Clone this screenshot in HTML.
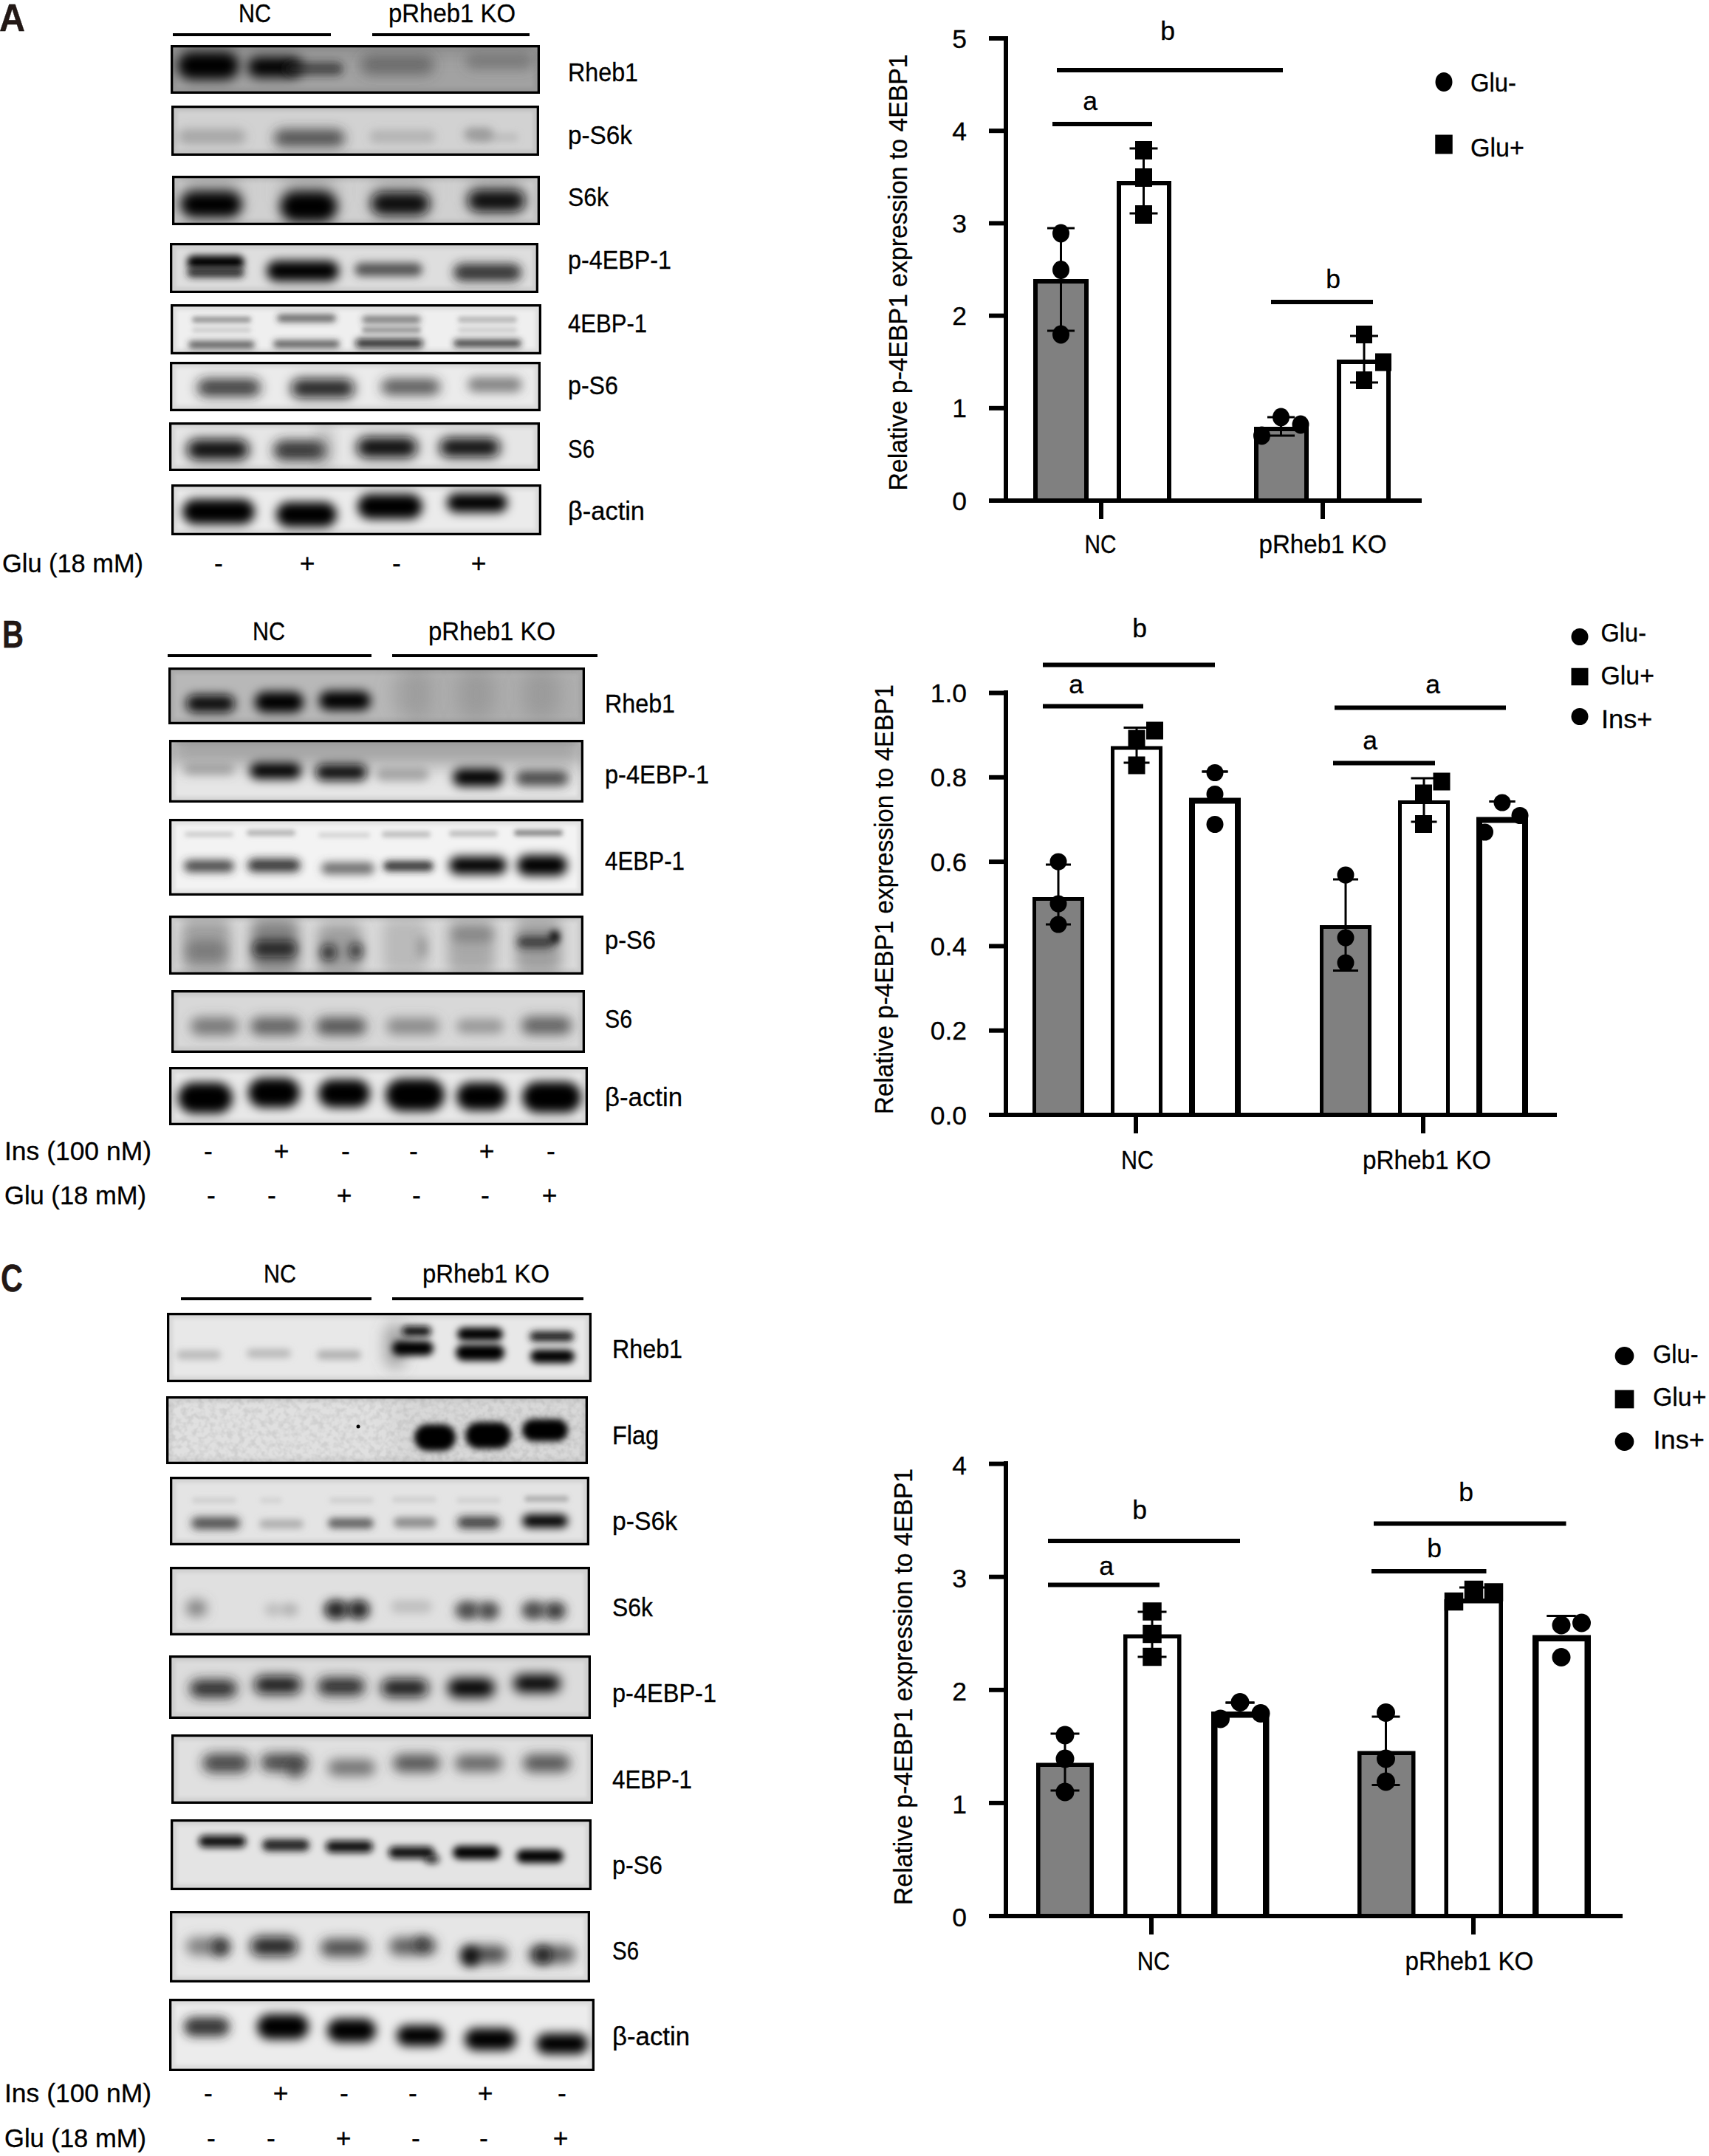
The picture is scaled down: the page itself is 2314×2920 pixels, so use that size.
<!DOCTYPE html>
<html><head><meta charset="utf-8"><style>
html,body{margin:0;padding:0;background:#fff;}
svg{display:block;font-family:"Liberation Sans", sans-serif;}
text{stroke:#000;stroke-width:0.3px;}
</style></head><body>
<svg width="2314" height="2920" viewBox="0 0 2314 2920">
<defs><filter id="noise" x="0" y="0" width="100%" height="100%"><feTurbulence type="fractalNoise" baseFrequency="0.13" numOctaves="2" seed="7"/><feColorMatrix type="matrix" values="0 0 0 0 0.55  0 0 0 0 0.55  0 0 0 0 0.55  3 0 0 0 -1.2"/></filter><filter id="b2" x="-100%" y="-500%" width="300%" height="1100%"><feGaussianBlur stdDeviation="2"/></filter><filter id="b3" x="-100%" y="-500%" width="300%" height="1100%"><feGaussianBlur stdDeviation="3"/></filter><filter id="b4" x="-100%" y="-500%" width="300%" height="1100%"><feGaussianBlur stdDeviation="4"/></filter><filter id="b5" x="-100%" y="-500%" width="300%" height="1100%"><feGaussianBlur stdDeviation="5"/></filter><filter id="b6" x="-100%" y="-500%" width="300%" height="1100%"><feGaussianBlur stdDeviation="6"/></filter><filter id="b7" x="-100%" y="-500%" width="300%" height="1100%"><feGaussianBlur stdDeviation="7"/></filter><filter id="b8" x="-100%" y="-500%" width="300%" height="1100%"><feGaussianBlur stdDeviation="8"/></filter><filter id="b9" x="-100%" y="-500%" width="300%" height="1100%"><feGaussianBlur stdDeviation="9"/></filter><filter id="b10" x="-100%" y="-500%" width="300%" height="1100%"><feGaussianBlur stdDeviation="10"/></filter><filter id="b11" x="-100%" y="-500%" width="300%" height="1100%"><feGaussianBlur stdDeviation="11"/></filter><filter id="b12" x="-100%" y="-500%" width="300%" height="1100%"><feGaussianBlur stdDeviation="12"/></filter><filter id="b13" x="-100%" y="-500%" width="300%" height="1100%"><feGaussianBlur stdDeviation="13"/></filter><filter id="b14" x="-100%" y="-500%" width="300%" height="1100%"><feGaussianBlur stdDeviation="14"/></filter></defs>
<rect width="2314" height="2920" fill="#fff"/>
<text x="-1" y="42" font-size="52" text-anchor="start" font-weight="bold" fill="#231815" textLength="35" lengthAdjust="spacingAndGlyphs">A</text>
<text x="3" y="877" font-size="52" text-anchor="start" font-weight="bold" fill="#231815" textLength="29" lengthAdjust="spacingAndGlyphs">B</text>
<text x="1" y="1749" font-size="52" text-anchor="start" font-weight="bold" fill="#231815" textLength="30" lengthAdjust="spacingAndGlyphs">C</text>
<text x="345" y="30" font-size="35.5" text-anchor="middle" font-weight="normal" fill="#000" textLength="44" lengthAdjust="spacingAndGlyphs">NC</text>
<text x="612" y="30" font-size="35.5" text-anchor="middle" font-weight="normal" fill="#000" textLength="172" lengthAdjust="spacingAndGlyphs">pRheb1 KO</text>
<line x1="234" y1="47" x2="448" y2="47" stroke="#000" stroke-width="4"/>
<line x1="504" y1="47" x2="717" y2="47" stroke="#000" stroke-width="4"/>
<clipPath id="k1"><rect x="231" y="61" width="500" height="66"/></clipPath>
<g clip-path="url(#k1)">
<rect x="231" y="61" width="500" height="66" fill="#a2a2a2"/>
<rect x="231" y="61" width="500" height="20" fill="#888" filter="url(#b8)" opacity="0.5"/>
<rect x="240" y="70" width="84" height="38" rx="19" ry="19" fill="#000" filter="url(#b8)"/>
<rect x="335" y="77" width="74" height="28" rx="14" ry="14" fill="#000" filter="url(#b8)"/>
<rect x="385" y="84" width="80" height="18" rx="9" ry="9" fill="#222" fill-opacity="0.7" filter="url(#b6)"/>
<rect x="488" y="75" width="100" height="26" rx="13" ry="13" fill="#444" fill-opacity="0.6" filter="url(#b9)"/>
<rect x="630" y="72" width="92" height="22" rx="11" ry="11" fill="#555" fill-opacity="0.5" filter="url(#b8)"/>
<rect x="236.3" y="66.3" width="489.4" height="55.4" fill="none" stroke="#000" stroke-opacity="0.07" stroke-width="6" filter="url(#b2)"/>
</g>
<rect x="232.65" y="62.65" width="496.7" height="62.7" fill="none" stroke="#000" stroke-width="3.3"/>
<text x="769" y="110" font-size="35.5" text-anchor="start" font-weight="normal" fill="#000" textLength="95" lengthAdjust="spacingAndGlyphs">Rheb1</text>
<clipPath id="k2"><rect x="232" y="143" width="498" height="68"/></clipPath>
<g clip-path="url(#k2)">
<rect x="232" y="143" width="498" height="68" fill="#d2d2d2"/>
<rect x="241" y="175" width="92" height="20" rx="10" ry="10" fill="#777" fill-opacity="0.5" filter="url(#b7)"/>
<rect x="371" y="175" width="96" height="24" rx="12" ry="12" fill="#333" fill-opacity="0.8" filter="url(#b8)"/>
<rect x="500" y="176" width="90" height="18" rx="9" ry="9" fill="#888" fill-opacity="0.4" filter="url(#b6)"/>
<rect x="628" y="173" width="40" height="18" rx="9" ry="9" fill="#666" fill-opacity="0.5" filter="url(#b6)"/>
<rect x="642" y="180" width="60" height="12" rx="6" ry="6" fill="#999" fill-opacity="0.35" filter="url(#b5)"/>
<rect x="237.3" y="148.3" width="487.4" height="57.4" fill="none" stroke="#000" stroke-opacity="0.07" stroke-width="6" filter="url(#b2)"/>
</g>
<rect x="233.65" y="144.65" width="494.7" height="64.7" fill="none" stroke="#000" stroke-width="3.3"/>
<text x="769" y="195" font-size="35.5" text-anchor="start" font-weight="normal" fill="#000" textLength="87" lengthAdjust="spacingAndGlyphs">p-S6k</text>
<clipPath id="k3"><rect x="233" y="238" width="498" height="67"/></clipPath>
<g clip-path="url(#k3)">
<rect x="233" y="238" width="498" height="67" fill="#d0d0d0"/>
<rect x="245" y="237" width="80" height="44" rx="15" ry="15" fill="#777" fill-opacity="0.35" filter="url(#b12)"/>
<rect x="381" y="237" width="74" height="44" rx="15" ry="15" fill="#777" fill-opacity="0.35" filter="url(#b12)"/>
<rect x="504" y="237" width="76" height="44" rx="15" ry="15" fill="#888" fill-opacity="0.3" filter="url(#b12)"/>
<rect x="635" y="237" width="74" height="44" rx="15" ry="15" fill="#888" fill-opacity="0.3" filter="url(#b12)"/>
<rect x="244" y="259" width="84" height="36" rx="18" ry="18" fill="#000" filter="url(#b8)"/>
<rect x="379" y="259" width="78" height="42" rx="21" ry="21" fill="#000" filter="url(#b8)"/>
<rect x="502" y="260" width="80" height="32" rx="16" ry="16" fill="#111" filter="url(#b8)"/>
<rect x="633" y="257" width="78" height="30" rx="15" ry="15" fill="#111" filter="url(#b8)"/>
<rect x="238.3" y="243.3" width="487.4" height="56.4" fill="none" stroke="#000" stroke-opacity="0.07" stroke-width="6" filter="url(#b2)"/>
</g>
<rect x="234.65" y="239.65" width="494.7" height="63.7" fill="none" stroke="#000" stroke-width="3.3"/>
<text x="769" y="279" font-size="35.5" text-anchor="start" font-weight="normal" fill="#000" textLength="55" lengthAdjust="spacingAndGlyphs">S6k</text>
<clipPath id="k4"><rect x="230" y="329" width="499" height="68"/></clipPath>
<g clip-path="url(#k4)">
<rect x="230" y="329" width="499" height="68" fill="#dedede"/>
<rect x="253" y="346" width="78" height="18" rx="9" ry="9" fill="#000" filter="url(#b5)"/>
<rect x="253" y="362" width="78" height="14" rx="7" ry="7" fill="#222" fill-opacity="0.9" filter="url(#b5)"/>
<rect x="361" y="353" width="98" height="28" rx="14" ry="14" fill="#000" filter="url(#b7)"/>
<rect x="480" y="356" width="92" height="18" rx="9" ry="9" fill="#444" fill-opacity="0.9" filter="url(#b6)"/>
<rect x="614" y="357" width="92" height="24" rx="12" ry="12" fill="#222" fill-opacity="0.9" filter="url(#b7)"/>
<rect x="235.3" y="334.3" width="488.4" height="57.4" fill="none" stroke="#000" stroke-opacity="0.07" stroke-width="6" filter="url(#b2)"/>
</g>
<rect x="231.65" y="330.65" width="495.7" height="64.7" fill="none" stroke="#000" stroke-width="3.3"/>
<text x="769" y="364" font-size="35.5" text-anchor="start" font-weight="normal" fill="#000" textLength="140" lengthAdjust="spacingAndGlyphs">p-4EBP-1</text>
<clipPath id="k5"><rect x="231" y="412" width="502" height="68"/></clipPath>
<g clip-path="url(#k5)">
<rect x="231" y="412" width="502" height="68" fill="#efefef"/>
<rect x="260" y="429" width="80" height="8" rx="4" ry="4" fill="#555" fill-opacity="0.6" filter="url(#b3)"/>
<rect x="375" y="426" width="80" height="10" rx="5" ry="5" fill="#333" fill-opacity="0.75" filter="url(#b4)"/>
<rect x="490" y="428" width="80" height="10" rx="5" ry="5" fill="#444" fill-opacity="0.7" filter="url(#b4)"/>
<rect x="620" y="429" width="80" height="8" rx="4" ry="4" fill="#777" fill-opacity="0.5" filter="url(#b3)"/>
<rect x="260" y="444" width="80" height="6" rx="3" ry="3" fill="#888" fill-opacity="0.4" filter="url(#b3)"/>
<rect x="490" y="443" width="80" height="8" rx="4" ry="4" fill="#555" fill-opacity="0.6" filter="url(#b3)"/>
<rect x="620" y="444" width="80" height="6" rx="3" ry="3" fill="#888" fill-opacity="0.4" filter="url(#b3)"/>
<rect x="255" y="462" width="90" height="10" rx="5" ry="5" fill="#333" fill-opacity="0.8" filter="url(#b4)"/>
<rect x="370" y="461" width="90" height="10" rx="5" ry="5" fill="#333" fill-opacity="0.8" filter="url(#b4)"/>
<rect x="481" y="459" width="92" height="12" rx="6" ry="6" fill="#111" fill-opacity="0.9" filter="url(#b5)"/>
<rect x="614" y="460" width="92" height="10" rx="5" ry="5" fill="#222" fill-opacity="0.85" filter="url(#b4)"/>
<rect x="236.3" y="417.3" width="491.4" height="57.4" fill="none" stroke="#000" stroke-opacity="0.07" stroke-width="6" filter="url(#b2)"/>
</g>
<rect x="232.65" y="413.65" width="498.7" height="64.7" fill="none" stroke="#000" stroke-width="3.3"/>
<text x="769" y="450" font-size="35.5" text-anchor="start" font-weight="normal" fill="#000" textLength="107" lengthAdjust="spacingAndGlyphs">4EBP-1</text>
<clipPath id="k6"><rect x="230" y="490" width="502" height="67"/></clipPath>
<g clip-path="url(#k6)">
<rect x="230" y="490" width="502" height="67" fill="#ebebeb"/>
<rect x="267" y="513" width="86" height="24" rx="12" ry="12" fill="#222" fill-opacity="0.85" filter="url(#b8)"/>
<rect x="394" y="513" width="86" height="26" rx="13" ry="13" fill="#111" fill-opacity="0.9" filter="url(#b8)"/>
<rect x="516" y="513" width="80" height="22" rx="11" ry="11" fill="#333" fill-opacity="0.8" filter="url(#b8)"/>
<rect x="633" y="511" width="74" height="20" rx="10" ry="10" fill="#555" fill-opacity="0.7" filter="url(#b7)"/>
<rect x="235.3" y="495.3" width="491.4" height="56.4" fill="none" stroke="#000" stroke-opacity="0.07" stroke-width="6" filter="url(#b2)"/>
</g>
<rect x="231.65" y="491.65" width="498.7" height="63.7" fill="none" stroke="#000" stroke-width="3.3"/>
<text x="769" y="534" font-size="35.5" text-anchor="start" font-weight="normal" fill="#000" textLength="68" lengthAdjust="spacingAndGlyphs">p-S6</text>
<clipPath id="k7"><rect x="229" y="572" width="502" height="66"/></clipPath>
<g clip-path="url(#k7)">
<rect x="229" y="572" width="502" height="66" fill="#e6e6e6"/>
<rect x="253" y="595" width="84" height="28" rx="14" ry="14" fill="#111" filter="url(#b8)"/>
<rect x="370" y="596" width="72" height="28" rx="14" ry="14" fill="#222" fill-opacity="0.9" filter="url(#b8)"/>
<rect x="432" y="577" width="16" height="56" rx="8" ry="8" fill="#666" fill-opacity="0.4" filter="url(#b10)"/>
<rect x="483" y="592" width="82" height="28" rx="14" ry="14" fill="#111" filter="url(#b8)"/>
<rect x="595" y="593" width="82" height="26" rx="13" ry="13" fill="#111" filter="url(#b8)"/>
<rect x="234.3" y="577.3" width="491.4" height="55.4" fill="none" stroke="#000" stroke-opacity="0.07" stroke-width="6" filter="url(#b2)"/>
</g>
<rect x="230.65" y="573.65" width="498.7" height="62.7" fill="none" stroke="#000" stroke-width="3.3"/>
<text x="769" y="620" font-size="35.5" text-anchor="start" font-weight="normal" fill="#000" textLength="36" lengthAdjust="spacingAndGlyphs">S6</text>
<clipPath id="k8"><rect x="232" y="656" width="501" height="69"/></clipPath>
<g clip-path="url(#k8)">
<rect x="232" y="656" width="501" height="69" fill="#ebebeb"/>
<rect x="247" y="676" width="98" height="34" rx="17" ry="17" fill="#000" filter="url(#b7)"/>
<rect x="374" y="680" width="82" height="34" rx="17" ry="17" fill="#000" filter="url(#b7)"/>
<rect x="484" y="669" width="88" height="34" rx="17" ry="17" fill="#000" filter="url(#b7)"/>
<rect x="605" y="668" width="82" height="26" rx="13" ry="13" fill="#000" filter="url(#b7)"/>
<rect x="237.3" y="661.3" width="490.4" height="58.4" fill="none" stroke="#000" stroke-opacity="0.07" stroke-width="6" filter="url(#b2)"/>
</g>
<rect x="233.65" y="657.65" width="497.7" height="65.7" fill="none" stroke="#000" stroke-width="3.3"/>
<text x="769" y="704" font-size="35.5" text-anchor="start" font-weight="normal" fill="#000" textLength="104" lengthAdjust="spacingAndGlyphs">β-actin</text>
<text x="3" y="775" font-size="35.5" text-anchor="start" font-weight="normal" fill="#000" textLength="191" lengthAdjust="spacingAndGlyphs">Glu (18 mM)</text>
<text x="296" y="775" font-size="35.5" text-anchor="middle" font-weight="normal" fill="#000">-</text>
<text x="416" y="775" font-size="35.5" text-anchor="middle" font-weight="normal" fill="#000">+</text>
<text x="537" y="775" font-size="35.5" text-anchor="middle" font-weight="normal" fill="#000">-</text>
<text x="648" y="775" font-size="35.5" text-anchor="middle" font-weight="normal" fill="#000">+</text>
<text x="364" y="867" font-size="35.5" text-anchor="middle" font-weight="normal" fill="#000" textLength="44" lengthAdjust="spacingAndGlyphs">NC</text>
<text x="666" y="867" font-size="35.5" text-anchor="middle" font-weight="normal" fill="#000" textLength="172" lengthAdjust="spacingAndGlyphs">pRheb1 KO</text>
<line x1="227" y1="888" x2="503" y2="888" stroke="#000" stroke-width="4"/>
<line x1="531" y1="888" x2="809" y2="888" stroke="#000" stroke-width="4"/>
<clipPath id="k9"><rect x="228" y="904" width="564" height="77"/></clipPath>
<g clip-path="url(#k9)">
<rect x="228" y="904" width="564" height="77" fill="#b8b8b8"/>
<rect x="558" y="904" width="234" height="77" fill="#999" filter="url(#b10)" opacity="0.35"/>
<rect x="252" y="941" width="66" height="24" rx="12" ry="12" fill="#111" filter="url(#b7)"/>
<rect x="345" y="937" width="66" height="28" rx="14" ry="14" fill="#000" filter="url(#b7)"/>
<rect x="432" y="936" width="70" height="26" rx="13" ry="13" fill="#000" filter="url(#b7)"/>
<rect x="532" y="905" width="50" height="70" rx="25" ry="25" fill="#777" fill-opacity="0.35" filter="url(#b12)"/>
<rect x="620" y="905" width="50" height="70" rx="25" ry="25" fill="#777" fill-opacity="0.35" filter="url(#b12)"/>
<rect x="708" y="905" width="50" height="70" rx="25" ry="25" fill="#777" fill-opacity="0.35" filter="url(#b12)"/>
<rect x="233.3" y="909.3" width="553.4" height="66.4" fill="none" stroke="#000" stroke-opacity="0.07" stroke-width="6" filter="url(#b2)"/>
</g>
<rect x="229.65" y="905.65" width="560.7" height="73.7" fill="none" stroke="#000" stroke-width="3.3"/>
<text x="819" y="965" font-size="35.5" text-anchor="start" font-weight="normal" fill="#000" textLength="95" lengthAdjust="spacingAndGlyphs">Rheb1</text>
<clipPath id="k10"><rect x="229" y="1002" width="561" height="85"/></clipPath>
<g clip-path="url(#k10)">
<rect x="229" y="1002" width="561" height="85" fill="#e6e6e6"/>
<rect x="229" y="992" width="561" height="45" fill="#888" filter="url(#b12)" opacity="0.7"/>
<rect x="249" y="1034" width="68" height="16" rx="8" ry="8" fill="#777" fill-opacity="0.5" filter="url(#b6)"/>
<rect x="338" y="1033" width="70" height="22" rx="11" ry="11" fill="#000" filter="url(#b7)"/>
<rect x="427" y="1035" width="70" height="22" rx="11" ry="11" fill="#111" filter="url(#b7)"/>
<rect x="509" y="1040" width="72" height="18" rx="9" ry="9" fill="#777" fill-opacity="0.55" filter="url(#b6)"/>
<rect x="613" y="1041" width="68" height="24" rx="12" ry="12" fill="#000" filter="url(#b7)"/>
<rect x="698" y="1044" width="72" height="20" rx="10" ry="10" fill="#333" fill-opacity="0.9" filter="url(#b7)"/>
<rect x="234.3" y="1007.3" width="550.4" height="74.4" fill="none" stroke="#000" stroke-opacity="0.07" stroke-width="6" filter="url(#b2)"/>
</g>
<rect x="230.65" y="1003.65" width="557.7" height="81.7" fill="none" stroke="#000" stroke-width="3.3"/>
<text x="819" y="1061" font-size="35.5" text-anchor="start" font-weight="normal" fill="#000" textLength="141" lengthAdjust="spacingAndGlyphs">p-4EBP-1</text>
<clipPath id="k11"><rect x="229" y="1109" width="561" height="104"/></clipPath>
<g clip-path="url(#k11)">
<rect x="229" y="1109" width="561" height="104" fill="#f3f3f3"/>
<rect x="250" y="1127" width="66" height="6" rx="3" ry="3" fill="#999" fill-opacity="0.5" filter="url(#b3)"/>
<rect x="334" y="1124" width="66" height="8" rx="4" ry="4" fill="#888" fill-opacity="0.6" filter="url(#b3)"/>
<rect x="431" y="1128" width="70" height="6" rx="3" ry="3" fill="#aaa" fill-opacity="0.5" filter="url(#b3)"/>
<rect x="517" y="1126" width="66" height="8" rx="4" ry="4" fill="#999" fill-opacity="0.6" filter="url(#b3)"/>
<rect x="608" y="1125" width="66" height="8" rx="4" ry="4" fill="#999" fill-opacity="0.6" filter="url(#b3)"/>
<rect x="696" y="1124" width="66" height="8" rx="4" ry="4" fill="#555" fill-opacity="0.7" filter="url(#b3)"/>
<rect x="249" y="1165" width="68" height="16" rx="8" ry="8" fill="#333" fill-opacity="0.9" filter="url(#b6)"/>
<rect x="335" y="1163" width="72" height="18" rx="9" ry="9" fill="#222" fill-opacity="0.9" filter="url(#b6)"/>
<rect x="435" y="1168" width="72" height="16" rx="8" ry="8" fill="#555" fill-opacity="0.85" filter="url(#b6)"/>
<rect x="519" y="1166" width="68" height="14" rx="7" ry="7" fill="#222" fill-opacity="0.9" filter="url(#b5)"/>
<rect x="608" y="1160" width="78" height="24" rx="12" ry="12" fill="#000" filter="url(#b7)"/>
<rect x="700" y="1158" width="68" height="28" rx="14" ry="14" fill="#000" filter="url(#b7)"/>
<rect x="234.3" y="1114.3" width="550.4" height="93.4" fill="none" stroke="#000" stroke-opacity="0.07" stroke-width="6" filter="url(#b2)"/>
</g>
<rect x="230.65" y="1110.65" width="557.7" height="100.7" fill="none" stroke="#000" stroke-width="3.3"/>
<text x="819" y="1178" font-size="35.5" text-anchor="start" font-weight="normal" fill="#000" textLength="108" lengthAdjust="spacingAndGlyphs">4EBP-1</text>
<clipPath id="k12"><rect x="229" y="1240" width="561" height="80"/></clipPath>
<g clip-path="url(#k12)">
<rect x="229" y="1240" width="561" height="80" fill="#dadada"/>
<rect x="246" y="1245" width="66" height="72" rx="12" ry="12" fill="#888" fill-opacity="0.7" filter="url(#b9)"/>
<rect x="251" y="1274" width="56" height="28" rx="14" ry="14" fill="#555" fill-opacity="0.5" filter="url(#b8)"/>
<rect x="340" y="1245" width="64" height="72" rx="12" ry="12" fill="#666" fill-opacity="0.75" filter="url(#b9)"/>
<rect x="342" y="1274" width="60" height="22" rx="11" ry="11" fill="#111" fill-opacity="0.8" filter="url(#b7)"/>
<rect x="430" y="1251" width="60" height="68" rx="12" ry="12" fill="#777" fill-opacity="0.6" filter="url(#b9)"/>
<rect x="434" y="1279" width="22" height="22" rx="11" ry="11" fill="#111" fill-opacity="0.8" filter="url(#b7)"/>
<rect x="473" y="1277" width="18" height="22" rx="9" ry="9" fill="#111" fill-opacity="0.8" filter="url(#b7)"/>
<rect x="518" y="1245" width="60" height="72" rx="12" ry="12" fill="#999" fill-opacity="0.5" filter="url(#b9)"/>
<rect x="566" y="1269" width="12" height="28" rx="6" ry="6" fill="#666" fill-opacity="0.5" filter="url(#b7)"/>
<rect x="606" y="1245" width="64" height="72" rx="12" ry="12" fill="#888" fill-opacity="0.6" filter="url(#b9)"/>
<rect x="612" y="1256" width="56" height="20" rx="10" ry="10" fill="#666" fill-opacity="0.5" filter="url(#b7)"/>
<rect x="698" y="1245" width="62" height="72" rx="12" ry="12" fill="#777" fill-opacity="0.6" filter="url(#b9)"/>
<rect x="700" y="1268" width="50" height="16" rx="8" ry="8" fill="#222" fill-opacity="0.8" filter="url(#b6)"/>
<rect x="744" y="1260" width="14" height="18" rx="7" ry="7" fill="#000" fill-opacity="0.9" filter="url(#b5)"/>
<rect x="234.3" y="1245.3" width="550.4" height="69.4" fill="none" stroke="#000" stroke-opacity="0.07" stroke-width="6" filter="url(#b2)"/>
</g>
<rect x="230.65" y="1241.65" width="557.7" height="76.7" fill="none" stroke="#000" stroke-width="3.3"/>
<text x="819" y="1285" font-size="35.5" text-anchor="start" font-weight="normal" fill="#000" textLength="69" lengthAdjust="spacingAndGlyphs">p-S6</text>
<clipPath id="k13"><rect x="232" y="1341" width="560" height="85"/></clipPath>
<g clip-path="url(#k13)">
<rect x="232" y="1341" width="560" height="85" fill="#d8d8d8"/>
<rect x="258" y="1378" width="64" height="24" rx="12" ry="12" fill="#555" fill-opacity="0.75" filter="url(#b8)"/>
<rect x="339" y="1378" width="68" height="24" rx="12" ry="12" fill="#444" fill-opacity="0.8" filter="url(#b8)"/>
<rect x="428" y="1378" width="68" height="24" rx="12" ry="12" fill="#333" fill-opacity="0.8" filter="url(#b8)"/>
<rect x="523" y="1379" width="72" height="22" rx="11" ry="11" fill="#666" fill-opacity="0.7" filter="url(#b8)"/>
<rect x="618" y="1380" width="64" height="20" rx="10" ry="10" fill="#777" fill-opacity="0.65" filter="url(#b7)"/>
<rect x="706" y="1377" width="68" height="24" rx="12" ry="12" fill="#444" fill-opacity="0.8" filter="url(#b8)"/>
<rect x="237.3" y="1346.3" width="549.4" height="74.4" fill="none" stroke="#000" stroke-opacity="0.07" stroke-width="6" filter="url(#b2)"/>
</g>
<rect x="233.65" y="1342.65" width="556.7" height="81.7" fill="none" stroke="#000" stroke-width="3.3"/>
<text x="819" y="1392" font-size="35.5" text-anchor="start" font-weight="normal" fill="#000" textLength="37" lengthAdjust="spacingAndGlyphs">S6</text>
<clipPath id="k14"><rect x="229" y="1445" width="567" height="79"/></clipPath>
<g clip-path="url(#k14)">
<rect x="229" y="1445" width="567" height="79" fill="#e8e8e8"/>
<rect x="241" y="1466" width="74" height="42" rx="21" ry="21" fill="#000" filter="url(#b7)"/>
<rect x="336" y="1460" width="70" height="40" rx="20" ry="20" fill="#000" filter="url(#b7)"/>
<rect x="431" y="1462" width="70" height="38" rx="19" ry="19" fill="#000" filter="url(#b7)"/>
<rect x="522" y="1461" width="80" height="44" rx="22" ry="22" fill="#000" filter="url(#b7)"/>
<rect x="618" y="1466" width="68" height="38" rx="19" ry="19" fill="#000" filter="url(#b7)"/>
<rect x="707" y="1465" width="80" height="42" rx="21" ry="21" fill="#000" filter="url(#b7)"/>
<rect x="234.3" y="1450.3" width="556.4" height="68.4" fill="none" stroke="#000" stroke-opacity="0.07" stroke-width="6" filter="url(#b2)"/>
</g>
<rect x="230.65" y="1446.65" width="563.7" height="75.7" fill="none" stroke="#000" stroke-width="3.3"/>
<text x="819" y="1498" font-size="35.5" text-anchor="start" font-weight="normal" fill="#000" textLength="105" lengthAdjust="spacingAndGlyphs">β-actin</text>
<text x="6" y="1571" font-size="35.5" text-anchor="start" font-weight="normal" fill="#000" textLength="199" lengthAdjust="spacingAndGlyphs">Ins (100 nM)</text>
<text x="6" y="1631" font-size="35.5" text-anchor="start" font-weight="normal" fill="#000" textLength="192" lengthAdjust="spacingAndGlyphs">Glu (18 mM)</text>
<text x="282" y="1571" font-size="35.5" text-anchor="middle" font-weight="normal" fill="#000">-</text>
<text x="381" y="1571" font-size="35.5" text-anchor="middle" font-weight="normal" fill="#000">+</text>
<text x="468" y="1571" font-size="35.5" text-anchor="middle" font-weight="normal" fill="#000">-</text>
<text x="560" y="1571" font-size="35.5" text-anchor="middle" font-weight="normal" fill="#000">-</text>
<text x="659" y="1571" font-size="35.5" text-anchor="middle" font-weight="normal" fill="#000">+</text>
<text x="746" y="1571" font-size="35.5" text-anchor="middle" font-weight="normal" fill="#000">-</text>
<text x="286" y="1631" font-size="35.5" text-anchor="middle" font-weight="normal" fill="#000">-</text>
<text x="368" y="1631" font-size="35.5" text-anchor="middle" font-weight="normal" fill="#000">-</text>
<text x="466" y="1631" font-size="35.5" text-anchor="middle" font-weight="normal" fill="#000">+</text>
<text x="564" y="1631" font-size="35.5" text-anchor="middle" font-weight="normal" fill="#000">-</text>
<text x="657" y="1631" font-size="35.5" text-anchor="middle" font-weight="normal" fill="#000">-</text>
<text x="744" y="1631" font-size="35.5" text-anchor="middle" font-weight="normal" fill="#000">+</text>
<text x="379" y="1737" font-size="35.5" text-anchor="middle" font-weight="normal" fill="#000" textLength="44" lengthAdjust="spacingAndGlyphs">NC</text>
<text x="658" y="1737" font-size="35.5" text-anchor="middle" font-weight="normal" fill="#000" textLength="172" lengthAdjust="spacingAndGlyphs">pRheb1 KO</text>
<line x1="245" y1="1759" x2="503" y2="1759" stroke="#000" stroke-width="4"/>
<line x1="531" y1="1759" x2="790" y2="1759" stroke="#000" stroke-width="4"/>
<clipPath id="k15"><rect x="226" y="1778" width="575" height="94"/></clipPath>
<g clip-path="url(#k15)">
<rect x="226" y="1778" width="575" height="94" fill="#e8e8e8"/>
<rect x="239" y="1829" width="60" height="12" rx="6" ry="6" fill="#999" fill-opacity="0.6" filter="url(#b5)"/>
<rect x="334" y="1827" width="60" height="12" rx="6" ry="6" fill="#999" fill-opacity="0.6" filter="url(#b5)"/>
<rect x="429" y="1829" width="60" height="12" rx="6" ry="6" fill="#888" fill-opacity="0.6" filter="url(#b5)"/>
<rect x="521" y="1793" width="28" height="60" rx="14" ry="14" fill="#666" fill-opacity="0.55" filter="url(#b10)"/>
<rect x="544" y="1796" width="40" height="14" rx="7" ry="7" fill="#111" filter="url(#b5)"/>
<rect x="531" y="1816" width="56" height="20" rx="10" ry="10" fill="#000" filter="url(#b5)"/>
<rect x="619" y="1798" width="62" height="18" rx="9" ry="9" fill="#000" filter="url(#b5)"/>
<rect x="617" y="1821" width="66" height="22" rx="11" ry="11" fill="#000" filter="url(#b5)"/>
<rect x="717" y="1803" width="60" height="14" rx="7" ry="7" fill="#222" filter="url(#b5)"/>
<rect x="718" y="1828" width="60" height="18" rx="9" ry="9" fill="#000" filter="url(#b5)"/>
<rect x="231.3" y="1783.3" width="564.4" height="83.4" fill="none" stroke="#000" stroke-opacity="0.07" stroke-width="6" filter="url(#b2)"/>
</g>
<rect x="227.65" y="1779.65" width="571.7" height="90.7" fill="none" stroke="#000" stroke-width="3.3"/>
<text x="829" y="1839" font-size="35.5" text-anchor="start" font-weight="normal" fill="#000" textLength="95" lengthAdjust="spacingAndGlyphs">Rheb1</text>
<clipPath id="k16"><rect x="225" y="1891" width="571" height="92"/></clipPath>
<g clip-path="url(#k16)">
<rect x="225" y="1891" width="571" height="92" fill="#e0e0e0"/>
<rect x="225" y="1891" width="571" height="92" fill="#fff" filter="url(#noise)" opacity="0.55"/><rect x="530" y="1891" width="290" height="92" fill="#999" opacity="0.12" filter="url(#b14)"/><circle cx="485" cy="1932" r="2.5" fill="#000"/>
<rect x="561" y="1929" width="56" height="36" rx="18" ry="18" fill="#000" filter="url(#b4)"/>
<rect x="630" y="1926" width="62" height="36" rx="18" ry="18" fill="#000" filter="url(#b4)"/>
<rect x="707" y="1922" width="62" height="30" rx="15" ry="15" fill="#000" filter="url(#b4)"/>
<rect x="230.3" y="1896.3" width="560.4" height="81.4" fill="none" stroke="#000" stroke-opacity="0.07" stroke-width="6" filter="url(#b2)"/>
</g>
<rect x="226.65" y="1892.65" width="567.7" height="88.7" fill="none" stroke="#000" stroke-width="3.3"/>
<text x="829" y="1956" font-size="35.5" text-anchor="start" font-weight="normal" fill="#000" textLength="63" lengthAdjust="spacingAndGlyphs">Flag</text>
<clipPath id="k17"><rect x="230" y="2000" width="568" height="93"/></clipPath>
<g clip-path="url(#k17)">
<rect x="230" y="2000" width="568" height="93" fill="#e4e4e4"/>
<rect x="260" y="2028" width="60" height="8" rx="4" ry="4" fill="#bbb" fill-opacity="0.5" filter="url(#b3)"/>
<rect x="352" y="2028" width="30" height="8" rx="4" ry="4" fill="#bbb" fill-opacity="0.4" filter="url(#b3)"/>
<rect x="446" y="2028" width="60" height="8" rx="4" ry="4" fill="#bbb" fill-opacity="0.5" filter="url(#b3)"/>
<rect x="531" y="2027" width="60" height="8" rx="4" ry="4" fill="#bbb" fill-opacity="0.5" filter="url(#b3)"/>
<rect x="618" y="2028" width="60" height="8" rx="4" ry="4" fill="#bbb" fill-opacity="0.45" filter="url(#b3)"/>
<rect x="710" y="2026" width="60" height="8" rx="4" ry="4" fill="#888" fill-opacity="0.6" filter="url(#b3)"/>
<rect x="259" y="2055" width="66" height="16" rx="8" ry="8" fill="#333" fill-opacity="0.85" filter="url(#b6)"/>
<rect x="351" y="2058" width="60" height="12" rx="6" ry="6" fill="#888" fill-opacity="0.6" filter="url(#b5)"/>
<rect x="444" y="2056" width="62" height="14" rx="7" ry="7" fill="#444" fill-opacity="0.8" filter="url(#b5)"/>
<rect x="533" y="2055" width="58" height="14" rx="7" ry="7" fill="#666" fill-opacity="0.7" filter="url(#b5)"/>
<rect x="619" y="2054" width="58" height="16" rx="8" ry="8" fill="#222" fill-opacity="0.85" filter="url(#b6)"/>
<rect x="707" y="2051" width="62" height="18" rx="9" ry="9" fill="#000" filter="url(#b6)"/>
<rect x="235.3" y="2005.3" width="557.4" height="82.4" fill="none" stroke="#000" stroke-opacity="0.07" stroke-width="6" filter="url(#b2)"/>
</g>
<rect x="231.65" y="2001.65" width="564.7" height="89.7" fill="none" stroke="#000" stroke-width="3.3"/>
<text x="829" y="2072" font-size="35.5" text-anchor="start" font-weight="normal" fill="#000" textLength="88" lengthAdjust="spacingAndGlyphs">p-S6k</text>
<clipPath id="k18"><rect x="230" y="2122" width="569" height="93"/></clipPath>
<g clip-path="url(#k18)">
<rect x="230" y="2122" width="569" height="93" fill="#e0e0e0"/>
<rect x="252" y="2167" width="28" height="22" rx="11" ry="11" fill="#666" fill-opacity="0.8" filter="url(#b8)"/>
<rect x="358" y="2171" width="24" height="18" rx="9" ry="9" fill="#aaa" fill-opacity="0.6" filter="url(#b6)"/>
<rect x="380" y="2171" width="24" height="18" rx="9" ry="9" fill="#999" fill-opacity="0.6" filter="url(#b6)"/>
<rect x="439" y="2170" width="60" height="20" rx="10" ry="10" fill="#555" fill-opacity="0.7" filter="url(#b7)"/>
<rect x="441" y="2168" width="28" height="24" rx="12" ry="12" fill="#111" fill-opacity="0.85" filter="url(#b7)"/>
<rect x="473" y="2168" width="26" height="24" rx="12" ry="12" fill="#111" fill-opacity="0.85" filter="url(#b7)"/>
<rect x="529" y="2167" width="56" height="18" rx="9" ry="9" fill="#aaa" fill-opacity="0.6" filter="url(#b6)"/>
<rect x="615" y="2171" width="60" height="20" rx="10" ry="10" fill="#666" fill-opacity="0.7" filter="url(#b7)"/>
<rect x="620" y="2170" width="26" height="22" rx="11" ry="11" fill="#333" fill-opacity="0.8" filter="url(#b7)"/>
<rect x="650" y="2171" width="24" height="22" rx="11" ry="11" fill="#333" fill-opacity="0.8" filter="url(#b7)"/>
<rect x="706" y="2171" width="60" height="20" rx="10" ry="10" fill="#666" fill-opacity="0.7" filter="url(#b7)"/>
<rect x="709" y="2170" width="26" height="22" rx="11" ry="11" fill="#333" fill-opacity="0.8" filter="url(#b7)"/>
<rect x="740" y="2171" width="24" height="22" rx="11" ry="11" fill="#222" fill-opacity="0.8" filter="url(#b7)"/>
<rect x="235.3" y="2127.3" width="558.4" height="82.4" fill="none" stroke="#000" stroke-opacity="0.07" stroke-width="6" filter="url(#b2)"/>
</g>
<rect x="231.65" y="2123.65" width="565.7" height="89.7" fill="none" stroke="#000" stroke-width="3.3"/>
<text x="829" y="2189" font-size="35.5" text-anchor="start" font-weight="normal" fill="#000" textLength="55" lengthAdjust="spacingAndGlyphs">S6k</text>
<clipPath id="k19"><rect x="229" y="2242" width="571" height="86"/></clipPath>
<g clip-path="url(#k19)">
<rect x="229" y="2242" width="571" height="86" fill="#dcdcdc"/>
<rect x="257" y="2275" width="64" height="24" rx="12" ry="12" fill="#222" fill-opacity="0.95" filter="url(#b8)"/>
<rect x="344" y="2270" width="64" height="24" rx="12" ry="12" fill="#111" fill-opacity="0.95" filter="url(#b8)"/>
<rect x="430" y="2272" width="64" height="24" rx="12" ry="12" fill="#222" fill-opacity="0.95" filter="url(#b8)"/>
<rect x="516" y="2274" width="64" height="24" rx="12" ry="12" fill="#111" fill-opacity="0.95" filter="url(#b8)"/>
<rect x="606" y="2273" width="64" height="26" rx="13" ry="13" fill="#000" filter="url(#b8)"/>
<rect x="695" y="2268" width="64" height="24" rx="12" ry="12" fill="#000" filter="url(#b8)"/>
<rect x="234.3" y="2247.3" width="560.4" height="75.4" fill="none" stroke="#000" stroke-opacity="0.07" stroke-width="6" filter="url(#b2)"/>
</g>
<rect x="230.65" y="2243.65" width="567.7" height="82.7" fill="none" stroke="#000" stroke-width="3.3"/>
<text x="829" y="2305" font-size="35.5" text-anchor="start" font-weight="normal" fill="#000" textLength="141" lengthAdjust="spacingAndGlyphs">p-4EBP-1</text>
<clipPath id="k20"><rect x="232" y="2349" width="571" height="94"/></clipPath>
<g clip-path="url(#k20)">
<rect x="232" y="2349" width="571" height="94" fill="#e0e0e0"/>
<rect x="274" y="2375" width="64" height="26" rx="13" ry="13" fill="#222" fill-opacity="0.8" filter="url(#b8)"/>
<rect x="353" y="2375" width="64" height="24" rx="12" ry="12" fill="#222" fill-opacity="0.8" filter="url(#b8)"/>
<rect x="388" y="2386" width="24" height="22" rx="11" ry="11" fill="#333" fill-opacity="0.65" filter="url(#b8)"/>
<rect x="444" y="2383" width="64" height="22" rx="11" ry="11" fill="#555" fill-opacity="0.8" filter="url(#b8)"/>
<rect x="532" y="2376" width="64" height="24" rx="12" ry="12" fill="#333" fill-opacity="0.8" filter="url(#b8)"/>
<rect x="616" y="2377" width="64" height="22" rx="11" ry="11" fill="#444" fill-opacity="0.8" filter="url(#b8)"/>
<rect x="708" y="2376" width="64" height="24" rx="12" ry="12" fill="#333" fill-opacity="0.8" filter="url(#b8)"/>
<rect x="237.3" y="2354.3" width="560.4" height="83.4" fill="none" stroke="#000" stroke-opacity="0.07" stroke-width="6" filter="url(#b2)"/>
</g>
<rect x="233.65" y="2350.65" width="567.7" height="90.7" fill="none" stroke="#000" stroke-width="3.3"/>
<text x="829" y="2422" font-size="35.5" text-anchor="start" font-weight="normal" fill="#000" textLength="108" lengthAdjust="spacingAndGlyphs">4EBP-1</text>
<clipPath id="k21"><rect x="231" y="2464" width="570" height="96"/></clipPath>
<g clip-path="url(#k21)">
<rect x="231" y="2464" width="570" height="96" fill="#e4e4e4"/>
<rect x="269" y="2486" width="64" height="16" rx="8" ry="8" fill="#111" filter="url(#b5)"/>
<rect x="355" y="2491" width="64" height="16" rx="8" ry="8" fill="#222" filter="url(#b5)"/>
<rect x="441" y="2493" width="64" height="16" rx="8" ry="8" fill="#111" filter="url(#b5)"/>
<rect x="526" y="2501" width="62" height="16" rx="8" ry="8" fill="#111" filter="url(#b5)"/>
<rect x="575" y="2512" width="20" height="12" rx="6" ry="6" fill="#111" fill-opacity="0.8" filter="url(#b5)"/>
<rect x="613" y="2500" width="64" height="18" rx="9" ry="9" fill="#000" filter="url(#b5)"/>
<rect x="699" y="2505" width="64" height="18" rx="9" ry="9" fill="#000" filter="url(#b5)"/>
<rect x="236.3" y="2469.3" width="559.4" height="85.4" fill="none" stroke="#000" stroke-opacity="0.07" stroke-width="6" filter="url(#b2)"/>
</g>
<rect x="232.65" y="2465.65" width="566.7" height="92.7" fill="none" stroke="#000" stroke-width="3.3"/>
<text x="829" y="2538" font-size="35.5" text-anchor="start" font-weight="normal" fill="#000" textLength="68" lengthAdjust="spacingAndGlyphs">p-S6</text>
<clipPath id="k22"><rect x="230" y="2588" width="569" height="97"/></clipPath>
<g clip-path="url(#k22)">
<rect x="230" y="2588" width="569" height="97" fill="#e6e6e6"/>
<rect x="252" y="2624" width="58" height="24" rx="12" ry="12" fill="#666" fill-opacity="0.8" filter="url(#b8)"/>
<rect x="287" y="2625" width="24" height="24" rx="12" ry="12" fill="#222" fill-opacity="0.8" filter="url(#b7)"/>
<rect x="339" y="2623" width="64" height="26" rx="13" ry="13" fill="#111" fill-opacity="0.9" filter="url(#b8)"/>
<rect x="434" y="2626" width="64" height="24" rx="12" ry="12" fill="#333" fill-opacity="0.85" filter="url(#b8)"/>
<rect x="527" y="2624" width="64" height="24" rx="12" ry="12" fill="#444" fill-opacity="0.85" filter="url(#b8)"/>
<rect x="562" y="2623" width="20" height="20" rx="10" ry="10" fill="#222" fill-opacity="0.7" filter="url(#b7)"/>
<rect x="623" y="2635" width="64" height="24" rx="12" ry="12" fill="#333" fill-opacity="0.85" filter="url(#b8)"/>
<rect x="626" y="2637" width="22" height="26" rx="11" ry="11" fill="#000" fill-opacity="0.9" filter="url(#b7)"/>
<rect x="715" y="2635" width="64" height="24" rx="12" ry="12" fill="#444" fill-opacity="0.85" filter="url(#b8)"/>
<rect x="723" y="2636" width="24" height="24" rx="12" ry="12" fill="#111" fill-opacity="0.8" filter="url(#b7)"/>
<rect x="235.3" y="2593.3" width="558.4" height="86.4" fill="none" stroke="#000" stroke-opacity="0.07" stroke-width="6" filter="url(#b2)"/>
</g>
<rect x="231.65" y="2589.65" width="565.7" height="93.7" fill="none" stroke="#000" stroke-width="3.3"/>
<text x="829" y="2654" font-size="35.5" text-anchor="start" font-weight="normal" fill="#000" textLength="36" lengthAdjust="spacingAndGlyphs">S6</text>
<clipPath id="k23"><rect x="229" y="2707" width="576" height="98"/></clipPath>
<g clip-path="url(#k23)">
<rect x="229" y="2707" width="576" height="98" fill="#ececec"/>
<rect x="249" y="2732" width="62" height="26" rx="13" ry="13" fill="#222" fill-opacity="0.9" filter="url(#b7)"/>
<rect x="348" y="2728" width="70" height="34" rx="17" ry="17" fill="#000" filter="url(#b7)"/>
<rect x="443" y="2734" width="66" height="32" rx="16" ry="16" fill="#000" filter="url(#b7)"/>
<rect x="537" y="2743" width="64" height="28" rx="14" ry="14" fill="#000" filter="url(#b7)"/>
<rect x="629" y="2747" width="70" height="30" rx="15" ry="15" fill="#000" filter="url(#b7)"/>
<rect x="726" y="2754" width="70" height="28" rx="14" ry="14" fill="#000" filter="url(#b7)"/>
<rect x="234.3" y="2712.3" width="565.4" height="87.4" fill="none" stroke="#000" stroke-opacity="0.07" stroke-width="6" filter="url(#b2)"/>
</g>
<rect x="230.65" y="2708.65" width="572.7" height="94.7" fill="none" stroke="#000" stroke-width="3.3"/>
<text x="829" y="2770" font-size="35.5" text-anchor="start" font-weight="normal" fill="#000" textLength="105" lengthAdjust="spacingAndGlyphs">β-actin</text>
<text x="6" y="2847" font-size="35.5" text-anchor="start" font-weight="normal" fill="#000" textLength="199" lengthAdjust="spacingAndGlyphs">Ins (100 nM)</text>
<text x="6" y="2908" font-size="35.5" text-anchor="start" font-weight="normal" fill="#000" textLength="192" lengthAdjust="spacingAndGlyphs">Glu (18 mM)</text>
<text x="282" y="2847" font-size="35.5" text-anchor="middle" font-weight="normal" fill="#000">-</text>
<text x="380" y="2847" font-size="35.5" text-anchor="middle" font-weight="normal" fill="#000">+</text>
<text x="466" y="2847" font-size="35.5" text-anchor="middle" font-weight="normal" fill="#000">-</text>
<text x="559" y="2847" font-size="35.5" text-anchor="middle" font-weight="normal" fill="#000">-</text>
<text x="657" y="2847" font-size="35.5" text-anchor="middle" font-weight="normal" fill="#000">+</text>
<text x="761" y="2847" font-size="35.5" text-anchor="middle" font-weight="normal" fill="#000">-</text>
<text x="286" y="2908" font-size="35.5" text-anchor="middle" font-weight="normal" fill="#000">-</text>
<text x="367" y="2908" font-size="35.5" text-anchor="middle" font-weight="normal" fill="#000">-</text>
<text x="465" y="2908" font-size="35.5" text-anchor="middle" font-weight="normal" fill="#000">+</text>
<text x="563" y="2908" font-size="35.5" text-anchor="middle" font-weight="normal" fill="#000">-</text>
<text x="655" y="2908" font-size="35.5" text-anchor="middle" font-weight="normal" fill="#000">-</text>
<text x="759" y="2908" font-size="35.5" text-anchor="middle" font-weight="normal" fill="#000">+</text>
<line x1="1362" y1="49" x2="1362" y2="681" stroke="#000" stroke-width="6"/>
<line x1="1339" y1="678" x2="1925" y2="678" stroke="#000" stroke-width="6"/>
<line x1="1339" y1="678.0" x2="1362" y2="678.0" stroke="#000" stroke-width="6"/>
<text x="1309" y="690.5" font-size="35.5" text-anchor="end" font-weight="normal" fill="#000">0</text>
<line x1="1339" y1="552.8" x2="1362" y2="552.8" stroke="#000" stroke-width="6"/>
<text x="1309" y="565.3" font-size="35.5" text-anchor="end" font-weight="normal" fill="#000">1</text>
<line x1="1339" y1="427.6" x2="1362" y2="427.6" stroke="#000" stroke-width="6"/>
<text x="1309" y="440.1" font-size="35.5" text-anchor="end" font-weight="normal" fill="#000">2</text>
<line x1="1339" y1="302.4" x2="1362" y2="302.4" stroke="#000" stroke-width="6"/>
<text x="1309" y="314.9" font-size="35.5" text-anchor="end" font-weight="normal" fill="#000">3</text>
<line x1="1339" y1="177.2" x2="1362" y2="177.2" stroke="#000" stroke-width="6"/>
<text x="1309" y="189.7" font-size="35.5" text-anchor="end" font-weight="normal" fill="#000">4</text>
<line x1="1339" y1="52.0" x2="1362" y2="52.0" stroke="#000" stroke-width="6"/>
<text x="1309" y="64.5" font-size="35.5" text-anchor="end" font-weight="normal" fill="#000">5</text>
<line x1="1491" y1="678" x2="1491" y2="703" stroke="#000" stroke-width="6"/>
<line x1="1791" y1="678" x2="1791" y2="703" stroke="#000" stroke-width="6"/>
<text x="1490" y="749" font-size="35.5" text-anchor="middle" font-weight="normal" fill="#000" textLength="43" lengthAdjust="spacingAndGlyphs">NC</text>
<text x="1791" y="749" font-size="35.5" text-anchor="middle" font-weight="normal" fill="#000" textLength="173" lengthAdjust="spacingAndGlyphs">pRheb1 KO</text>
<text x="0" y="0" font-size="35.5" text-anchor="middle" textLength="591" lengthAdjust="spacingAndGlyphs" transform="translate(1228,369) rotate(-90)">Relative p-4EBP1 expression to 4EBP1</text>
<rect x="1402.0" y="381.0" width="69" height="297.0" fill="#808080"/>
<path d="M1402.0,678 V381.0 H1471.0 V678" fill="none" stroke="#000" stroke-width="6" stroke-linejoin="miter" stroke-linecap="butt"/>
<rect x="1515.0" y="248.0" width="68" height="430.0" fill="#fff"/>
<path d="M1515.0,678 V248.0 H1583.0 V678" fill="none" stroke="#000" stroke-width="6" stroke-linejoin="miter" stroke-linecap="butt"/>
<rect x="1701.0" y="581.0" width="68" height="97.0" fill="#808080"/>
<path d="M1701.0,678 V581.0 H1769.0 V678" fill="none" stroke="#000" stroke-width="6" stroke-linejoin="miter" stroke-linecap="butt"/>
<rect x="1813.0" y="490.0" width="67" height="188.0" fill="#fff"/>
<path d="M1813.0,678 V490.0 H1880.0 V678" fill="none" stroke="#000" stroke-width="6" stroke-linejoin="miter" stroke-linecap="butt"/>
<line x1="1339" y1="678" x2="1925" y2="678" stroke="#000" stroke-width="6"/>
<line x1="1436.5" y1="309" x2="1436.5" y2="448" stroke="#000" stroke-width="3"/>
<line x1="1418.0" y1="309" x2="1455.0" y2="309" stroke="#000" stroke-width="3"/>
<line x1="1418.0" y1="448" x2="1455.0" y2="448" stroke="#000" stroke-width="3"/>
<line x1="1548.5" y1="201" x2="1548.5" y2="289" stroke="#000" stroke-width="3"/>
<line x1="1529.5" y1="201" x2="1567.5" y2="201" stroke="#000" stroke-width="3"/>
<line x1="1529.5" y1="289" x2="1567.5" y2="289" stroke="#000" stroke-width="3"/>
<line x1="1734.5" y1="565" x2="1734.5" y2="590" stroke="#000" stroke-width="3"/>
<line x1="1716.0" y1="565" x2="1753.0" y2="565" stroke="#000" stroke-width="3"/>
<line x1="1716.0" y1="590" x2="1753.0" y2="590" stroke="#000" stroke-width="3"/>
<line x1="1847" y1="455" x2="1847" y2="518" stroke="#000" stroke-width="3"/>
<line x1="1828.0" y1="455" x2="1866.0" y2="455" stroke="#000" stroke-width="3"/>
<line x1="1828.0" y1="518" x2="1866.0" y2="518" stroke="#000" stroke-width="3"/>
<ellipse cx="1436.5" cy="316" rx="11.5" ry="12.5" fill="#000"/>
<ellipse cx="1436.5" cy="365.5" rx="11.5" ry="12.5" fill="#000"/>
<ellipse cx="1436.5" cy="453" rx="11.5" ry="12.5" fill="#000"/>
<rect x="1537.0" y="191.0" width="23" height="25" fill="#000"/>
<rect x="1537.0" y="228.0" width="23" height="25" fill="#000"/>
<rect x="1537.0" y="278.0" width="23" height="25" fill="#000"/>
<ellipse cx="1734.5" cy="565" rx="11.5" ry="12.5" fill="#000"/>
<ellipse cx="1708.5" cy="590" rx="11.5" ry="12.5" fill="#000"/>
<ellipse cx="1761" cy="575" rx="11.5" ry="12.5" fill="#000"/>
<rect x="1836.0" y="441.0" width="22" height="24" fill="#000"/>
<rect x="1862.0" y="478.5" width="22" height="24" fill="#000"/>
<rect x="1836.0" y="503.0" width="22" height="24" fill="#000"/>
<line x1="1431" y1="95" x2="1737" y2="95" stroke="#000" stroke-width="6"/>
<text x="1581" y="54" font-size="35.5" text-anchor="middle" font-weight="normal" fill="#000">b</text>
<line x1="1425" y1="168" x2="1560" y2="168" stroke="#000" stroke-width="6"/>
<text x="1476" y="149" font-size="35.5" text-anchor="middle" font-weight="normal" fill="#000">a</text>
<line x1="1721" y1="409" x2="1859" y2="409" stroke="#000" stroke-width="6"/>
<text x="1805" y="390" font-size="35.5" text-anchor="middle" font-weight="normal" fill="#000">b</text>
<ellipse cx="1955" cy="111" rx="11.5" ry="13.0" fill="#000"/>
<text x="1991" y="124" font-size="35.5" text-anchor="start" font-weight="normal" fill="#000" textLength="62" lengthAdjust="spacingAndGlyphs">Glu-</text>
<rect x="1943.25" y="182.5" width="23.5" height="26" fill="#000"/>
<text x="1991" y="211.5" font-size="35.5" text-anchor="start" font-weight="normal" fill="#000" textLength="73" lengthAdjust="spacingAndGlyphs">Glu+</text>
<line x1="1362" y1="935" x2="1362" y2="1513" stroke="#000" stroke-width="6"/>
<line x1="1339" y1="1510" x2="2108" y2="1510" stroke="#000" stroke-width="6"/>
<line x1="1339" y1="1510.0" x2="1362" y2="1510.0" stroke="#000" stroke-width="6"/>
<text x="1309" y="1522.5" font-size="35.5" text-anchor="end" font-weight="normal" fill="#000">0.0</text>
<line x1="1339" y1="1395.7" x2="1362" y2="1395.7" stroke="#000" stroke-width="6"/>
<text x="1309" y="1408.2" font-size="35.5" text-anchor="end" font-weight="normal" fill="#000">0.2</text>
<line x1="1339" y1="1281.4" x2="1362" y2="1281.4" stroke="#000" stroke-width="6"/>
<text x="1309" y="1293.9" font-size="35.5" text-anchor="end" font-weight="normal" fill="#000">0.4</text>
<line x1="1339" y1="1167.1" x2="1362" y2="1167.1" stroke="#000" stroke-width="6"/>
<text x="1309" y="1179.6" font-size="35.5" text-anchor="end" font-weight="normal" fill="#000">0.6</text>
<line x1="1339" y1="1052.8" x2="1362" y2="1052.8" stroke="#000" stroke-width="6"/>
<text x="1309" y="1065.3" font-size="35.5" text-anchor="end" font-weight="normal" fill="#000">0.8</text>
<line x1="1339" y1="938.5" x2="1362" y2="938.5" stroke="#000" stroke-width="6"/>
<text x="1309" y="951.0" font-size="35.5" text-anchor="end" font-weight="normal" fill="#000">1.0</text>
<line x1="1538" y1="1510" x2="1538" y2="1535" stroke="#000" stroke-width="6"/>
<line x1="1927" y1="1510" x2="1927" y2="1535" stroke="#000" stroke-width="6"/>
<text x="1540" y="1583" font-size="35.5" text-anchor="middle" font-weight="normal" fill="#000" textLength="44" lengthAdjust="spacingAndGlyphs">NC</text>
<text x="1932" y="1583" font-size="35.5" text-anchor="middle" font-weight="normal" fill="#000" textLength="174" lengthAdjust="spacingAndGlyphs">pRheb1 KO</text>
<text x="0" y="0" font-size="35.5" text-anchor="middle" textLength="582" lengthAdjust="spacingAndGlyphs" transform="translate(1209,1218) rotate(-90)">Relative p-4EBP1 expression to 4EBP1</text>
<rect x="1400.5" y="1217.5" width="65" height="292.5" fill="#808080"/>
<path d="M1400.5,1510 V1217.5 H1465.5 V1510" fill="none" stroke="#000" stroke-width="5" stroke-linejoin="miter" stroke-linecap="butt"/>
<rect x="1506.5" y="1013.0" width="65" height="497.0" fill="#fff"/>
<path d="M1506.5,1510 V1013.0 H1571.5 V1510" fill="none" stroke="#000" stroke-width="5" stroke-linejoin="miter" stroke-linecap="butt"/>
<rect x="1614.0" y="1084.5" width="62" height="425.5" fill="#fff"/>
<path d="M1614.0,1510 V1084.5 H1676.0 V1510" fill="none" stroke="#000" stroke-width="8" stroke-linejoin="miter" stroke-linecap="butt"/>
<rect x="1789.5" y="1255.5" width="65" height="254.5" fill="#808080"/>
<path d="M1789.5,1510 V1255.5 H1854.5 V1510" fill="none" stroke="#000" stroke-width="5" stroke-linejoin="miter" stroke-linecap="butt"/>
<rect x="1895.5" y="1086.5" width="65" height="423.5" fill="#fff"/>
<path d="M1895.5,1510 V1086.5 H1960.5 V1510" fill="none" stroke="#000" stroke-width="5" stroke-linejoin="miter" stroke-linecap="butt"/>
<rect x="2003.0" y="1110.5" width="62" height="399.5" fill="#fff"/>
<path d="M2003.0,1510 V1110.5 H2065.0 V1510" fill="none" stroke="#000" stroke-width="8" stroke-linejoin="miter" stroke-linecap="butt"/>
<line x1="1339" y1="1510" x2="2108" y2="1510" stroke="#000" stroke-width="6"/>
<line x1="1433" y1="1171" x2="1433" y2="1252" stroke="#000" stroke-width="3"/>
<line x1="1416.0" y1="1171" x2="1450.0" y2="1171" stroke="#000" stroke-width="3"/>
<line x1="1416.0" y1="1252" x2="1450.0" y2="1252" stroke="#000" stroke-width="3"/>
<line x1="1539" y1="985.5" x2="1539" y2="1033" stroke="#000" stroke-width="3"/>
<line x1="1521.5" y1="985.5" x2="1556.5" y2="985.5" stroke="#000" stroke-width="3"/>
<line x1="1521.5" y1="1033" x2="1556.5" y2="1033" stroke="#000" stroke-width="3"/>
<line x1="1645" y1="1045" x2="1645" y2="1045" stroke="#000" stroke-width="3"/>
<line x1="1627.5" y1="1045" x2="1662.5" y2="1045" stroke="#000" stroke-width="3"/>
<line x1="1627.5" y1="1045" x2="1662.5" y2="1045" stroke="#000" stroke-width="3"/>
<line x1="1822" y1="1191" x2="1822" y2="1314.5" stroke="#000" stroke-width="3"/>
<line x1="1805.0" y1="1191" x2="1839.0" y2="1191" stroke="#000" stroke-width="3"/>
<line x1="1805.0" y1="1314.5" x2="1839.0" y2="1314.5" stroke="#000" stroke-width="3"/>
<line x1="1928" y1="1054" x2="1928" y2="1113" stroke="#000" stroke-width="3"/>
<line x1="1910.5" y1="1054" x2="1945.5" y2="1054" stroke="#000" stroke-width="3"/>
<line x1="1910.5" y1="1113" x2="1945.5" y2="1113" stroke="#000" stroke-width="3"/>
<line x1="2034" y1="1085.5" x2="2034" y2="1085.5" stroke="#000" stroke-width="3"/>
<line x1="2016.5" y1="1085.5" x2="2051.5" y2="1085.5" stroke="#000" stroke-width="3"/>
<line x1="2016.5" y1="1085.5" x2="2051.5" y2="1085.5" stroke="#000" stroke-width="3"/>
<ellipse cx="1433" cy="1167" rx="11.5" ry="11.5" fill="#000"/>
<ellipse cx="1433" cy="1224" rx="11.5" ry="11.5" fill="#000"/>
<ellipse cx="1433" cy="1252" rx="11.5" ry="11.5" fill="#000"/>
<rect x="1527.5" y="988.5" width="23" height="24" fill="#000"/>
<rect x="1552.0" y="977.5" width="23" height="24" fill="#000"/>
<rect x="1527.5" y="1024.5" width="23" height="24" fill="#000"/>
<ellipse cx="1645" cy="1046.5" rx="11.5" ry="11.5" fill="#000"/>
<ellipse cx="1645" cy="1075.5" rx="11.5" ry="11.5" fill="#000"/>
<ellipse cx="1645" cy="1116.5" rx="11.5" ry="11.5" fill="#000"/>
<ellipse cx="1822" cy="1185" rx="11.5" ry="11.5" fill="#000"/>
<ellipse cx="1822" cy="1270" rx="11.5" ry="11.5" fill="#000"/>
<ellipse cx="1822" cy="1304" rx="11.5" ry="11.5" fill="#000"/>
<rect x="1916.0" y="1062.5" width="23" height="24" fill="#000"/>
<rect x="1940.5" y="1046.5" width="23" height="24" fill="#000"/>
<rect x="1916.0" y="1104.0" width="23" height="24" fill="#000"/>
<ellipse cx="2034" cy="1087" rx="11.5" ry="11.5" fill="#000"/>
<ellipse cx="2058" cy="1104.5" rx="11.5" ry="11.5" fill="#000"/>
<ellipse cx="2010.5" cy="1127" rx="11.5" ry="11.5" fill="#000"/>
<line x1="1412" y1="900.5" x2="1645" y2="900.5" stroke="#000" stroke-width="6"/>
<text x="1543" y="863" font-size="35.5" text-anchor="middle" font-weight="normal" fill="#000">b</text>
<line x1="1412" y1="956.5" x2="1548" y2="956.5" stroke="#000" stroke-width="6"/>
<text x="1457" y="939" font-size="35.5" text-anchor="middle" font-weight="normal" fill="#000">a</text>
<line x1="1807" y1="958.5" x2="2039" y2="958.5" stroke="#000" stroke-width="6"/>
<text x="1940" y="939" font-size="35.5" text-anchor="middle" font-weight="normal" fill="#000">a</text>
<line x1="1805" y1="1033.5" x2="1943" y2="1033.5" stroke="#000" stroke-width="6"/>
<text x="1855" y="1015" font-size="35.5" text-anchor="middle" font-weight="normal" fill="#000">a</text>
<ellipse cx="2139" cy="862.5" rx="11.5" ry="11.5" fill="#000"/>
<text x="2167.5" y="869" font-size="35.5" text-anchor="start" font-weight="normal" fill="#000" textLength="61.5" lengthAdjust="spacingAndGlyphs">Glu-</text>
<rect x="2127.5" y="904.75" width="23" height="23.5" fill="#000"/>
<text x="2167.5" y="927" font-size="35.5" text-anchor="start" font-weight="normal" fill="#000" textLength="72.5" lengthAdjust="spacingAndGlyphs">Glu+</text>
<ellipse cx="2139" cy="970.5" rx="11.5" ry="11.5" fill="#000"/>
<text x="2168" y="986" font-size="35.5" text-anchor="start" font-weight="normal" fill="#000" textLength="69.5" lengthAdjust="spacingAndGlyphs">Ins+</text>
<line x1="1362" y1="1979" x2="1362" y2="2598" stroke="#000" stroke-width="6"/>
<line x1="1339" y1="2595" x2="2197" y2="2595" stroke="#000" stroke-width="6"/>
<line x1="1339" y1="2595.0" x2="1362" y2="2595.0" stroke="#000" stroke-width="6"/>
<text x="1309" y="2609.0" font-size="35.5" text-anchor="end" font-weight="normal" fill="#000">0</text>
<line x1="1339" y1="2441.9" x2="1362" y2="2441.9" stroke="#000" stroke-width="6"/>
<text x="1309" y="2455.9" font-size="35.5" text-anchor="end" font-weight="normal" fill="#000">1</text>
<line x1="1339" y1="2288.8" x2="1362" y2="2288.8" stroke="#000" stroke-width="6"/>
<text x="1309" y="2302.8" font-size="35.5" text-anchor="end" font-weight="normal" fill="#000">2</text>
<line x1="1339" y1="2135.7" x2="1362" y2="2135.7" stroke="#000" stroke-width="6"/>
<text x="1309" y="2149.7" font-size="35.5" text-anchor="end" font-weight="normal" fill="#000">3</text>
<line x1="1339" y1="1982.6" x2="1362" y2="1982.6" stroke="#000" stroke-width="6"/>
<text x="1309" y="1996.6" font-size="35.5" text-anchor="end" font-weight="normal" fill="#000">4</text>
<line x1="1559" y1="2595" x2="1559" y2="2620" stroke="#000" stroke-width="6"/>
<line x1="1995" y1="2595" x2="1995" y2="2620" stroke="#000" stroke-width="6"/>
<text x="1562" y="2668" font-size="35.5" text-anchor="middle" font-weight="normal" fill="#000" textLength="44.5" lengthAdjust="spacingAndGlyphs">NC</text>
<text x="1989.5" y="2668" font-size="35.5" text-anchor="middle" font-weight="normal" fill="#000" textLength="174" lengthAdjust="spacingAndGlyphs">pRheb1 KO</text>
<text x="0" y="0" font-size="35.5" text-anchor="middle" textLength="591" lengthAdjust="spacingAndGlyphs" transform="translate(1235,2284.5) rotate(-90)">Relative p-4EBP1 expression to 4EBP1</text>
<rect x="1405.75" y="2390.25" width="72.5" height="204.75" fill="#808080"/>
<path d="M1405.75,2595 V2390.25 H1478.25 V2595" fill="none" stroke="#000" stroke-width="5.5" stroke-linejoin="miter" stroke-linecap="butt"/>
<rect x="1523.75" y="2216.25" width="73.0" height="378.75" fill="#fff"/>
<path d="M1523.75,2595 V2216.25 H1596.75 V2595" fill="none" stroke="#000" stroke-width="5.5" stroke-linejoin="miter" stroke-linecap="butt"/>
<rect x="1644.25" y="2322.25" width="70.0" height="272.75" fill="#fff"/>
<path d="M1644.25,2595 V2322.25 H1714.25 V2595" fill="none" stroke="#000" stroke-width="8.5" stroke-linejoin="miter" stroke-linecap="butt"/>
<rect x="1840.75" y="2374.25" width="73.0" height="220.75" fill="#808080"/>
<path d="M1840.75,2595 V2374.25 H1913.75 V2595" fill="none" stroke="#000" stroke-width="5.5" stroke-linejoin="miter" stroke-linecap="butt"/>
<rect x="1958.25" y="2168.75" width="74.0" height="426.25" fill="#fff"/>
<path d="M1958.25,2595 V2168.75 H2032.25 V2595" fill="none" stroke="#000" stroke-width="5.5" stroke-linejoin="miter" stroke-linecap="butt"/>
<rect x="2079.25" y="2218.75" width="70.5" height="376.25" fill="#fff"/>
<path d="M2079.25,2595 V2218.75 H2149.75 V2595" fill="none" stroke="#000" stroke-width="8.5" stroke-linejoin="miter" stroke-linecap="butt"/>
<line x1="1339" y1="2595" x2="2197" y2="2595" stroke="#000" stroke-width="6"/>
<line x1="1442" y1="2348" x2="1442" y2="2425" stroke="#000" stroke-width="3"/>
<line x1="1422.5" y1="2348" x2="1461.5" y2="2348" stroke="#000" stroke-width="3"/>
<line x1="1422.5" y1="2425" x2="1461.5" y2="2425" stroke="#000" stroke-width="3"/>
<line x1="1560" y1="2183" x2="1560" y2="2244" stroke="#000" stroke-width="3"/>
<line x1="1540.5" y1="2183" x2="1579.5" y2="2183" stroke="#000" stroke-width="3"/>
<line x1="1540.5" y1="2244" x2="1579.5" y2="2244" stroke="#000" stroke-width="3"/>
<line x1="1679" y1="2306" x2="1679" y2="2306" stroke="#000" stroke-width="3"/>
<line x1="1659.5" y1="2306" x2="1698.5" y2="2306" stroke="#000" stroke-width="3"/>
<line x1="1659.5" y1="2306" x2="1698.5" y2="2306" stroke="#000" stroke-width="3"/>
<line x1="1876.5" y1="2325" x2="1876.5" y2="2417.5" stroke="#000" stroke-width="3"/>
<line x1="1857.5" y1="2325" x2="1895.5" y2="2325" stroke="#000" stroke-width="3"/>
<line x1="1857.5" y1="2417.5" x2="1895.5" y2="2417.5" stroke="#000" stroke-width="3"/>
<line x1="1995.5" y1="2150" x2="1995.5" y2="2166.5" stroke="#000" stroke-width="3"/>
<line x1="1976.0" y1="2150" x2="2015.0" y2="2150" stroke="#000" stroke-width="3"/>
<line x1="1976.0" y1="2166.5" x2="2015.0" y2="2166.5" stroke="#000" stroke-width="3"/>
<line x1="2114" y1="2188.5" x2="2114" y2="2188.5" stroke="#000" stroke-width="3"/>
<line x1="2094.5" y1="2188.5" x2="2133.5" y2="2188.5" stroke="#000" stroke-width="3"/>
<line x1="2094.5" y1="2188.5" x2="2133.5" y2="2188.5" stroke="#000" stroke-width="3"/>
<ellipse cx="1442" cy="2350" rx="12.5" ry="12.5" fill="#000"/>
<ellipse cx="1442" cy="2382" rx="12.5" ry="12.5" fill="#000"/>
<ellipse cx="1442" cy="2427" rx="12.5" ry="12.5" fill="#000"/>
<rect x="1547.25" y="2170.25" width="25.5" height="24.5" fill="#000"/>
<rect x="1547.25" y="2200.75" width="25.5" height="24.5" fill="#000"/>
<rect x="1547.25" y="2231.75" width="25.5" height="24.5" fill="#000"/>
<ellipse cx="1679" cy="2305.5" rx="12.5" ry="12.5" fill="#000"/>
<ellipse cx="1652.5" cy="2328" rx="12.5" ry="12.5" fill="#000"/>
<ellipse cx="1707" cy="2320.5" rx="12.5" ry="12.5" fill="#000"/>
<ellipse cx="1876.5" cy="2319.5" rx="12.5" ry="12.5" fill="#000"/>
<ellipse cx="1876.5" cy="2382" rx="12.5" ry="12.5" fill="#000"/>
<ellipse cx="1876.5" cy="2413" rx="12.5" ry="12.5" fill="#000"/>
<rect x="1955.75" y="2156.75" width="25.5" height="24.5" fill="#000"/>
<rect x="1982.75" y="2140.75" width="25.5" height="24.5" fill="#000"/>
<rect x="2009.75" y="2144.25" width="25.5" height="24.5" fill="#000"/>
<ellipse cx="2114" cy="2201" rx="12.5" ry="12.5" fill="#000"/>
<ellipse cx="2141.5" cy="2198" rx="12.5" ry="12.5" fill="#000"/>
<ellipse cx="2114" cy="2244.5" rx="12.5" ry="12.5" fill="#000"/>
<line x1="1419" y1="2087" x2="1679" y2="2087" stroke="#000" stroke-width="6"/>
<text x="1543" y="2057" font-size="35.5" text-anchor="middle" font-weight="normal" fill="#000">b</text>
<line x1="1419" y1="2146.5" x2="1570" y2="2146.5" stroke="#000" stroke-width="6"/>
<text x="1498" y="2133" font-size="35.5" text-anchor="middle" font-weight="normal" fill="#000">a</text>
<line x1="1860" y1="2063.5" x2="2120.5" y2="2063.5" stroke="#000" stroke-width="6"/>
<text x="1985" y="2033" font-size="35.5" text-anchor="middle" font-weight="normal" fill="#000">b</text>
<line x1="1857" y1="2128" x2="2012.5" y2="2128" stroke="#000" stroke-width="6"/>
<text x="1942" y="2108.5" font-size="35.5" text-anchor="middle" font-weight="normal" fill="#000">b</text>
<ellipse cx="2199.5" cy="1836.5" rx="12.85" ry="12.5" fill="#000"/>
<text x="2238" y="1846" font-size="35.5" text-anchor="start" font-weight="normal" fill="#000" textLength="61.5" lengthAdjust="spacingAndGlyphs">Glu-</text>
<rect x="2186.65" y="1882.65" width="25.7" height="24.7" fill="#000"/>
<text x="2238" y="1904" font-size="35.5" text-anchor="start" font-weight="normal" fill="#000" textLength="72.5" lengthAdjust="spacingAndGlyphs">Glu+</text>
<ellipse cx="2199.5" cy="1952.5" rx="12.85" ry="12.5" fill="#000"/>
<text x="2238.5" y="1962" font-size="35.5" text-anchor="start" font-weight="normal" fill="#000" textLength="69.5" lengthAdjust="spacingAndGlyphs">Ins+</text>
</svg></body></html>
